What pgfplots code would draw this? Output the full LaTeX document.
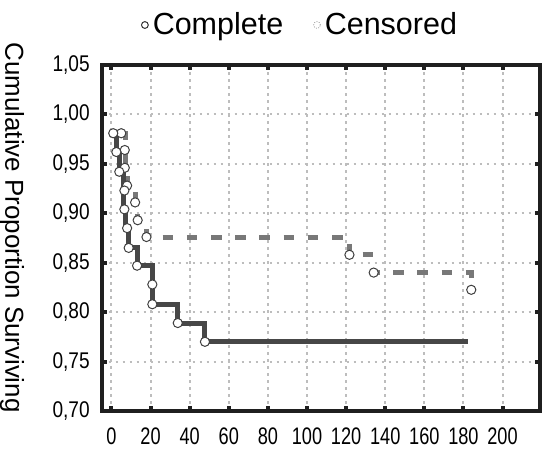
\documentclass[border=0pt]{standalone}
\usepackage{fontspec}
\setmainfont{Liberation Sans}
\newfontfamily\xnumfont{Liberation Sans}[FakeStretch=0.76]
\newfontfamily\ynumfont{Liberation Sans}[FakeStretch=0.84]
\usepackage{pgfplots}
\pgfplotsset{compat=1.18}

\definecolor{kmdark}{HTML}{474747}
\definecolor{kmgray}{HTML}{787878}
\definecolor{griddot}{HTML}{BDBDBD}

\begin{document}
\begin{tikzpicture}
\useasboundingbox (-50.85bp,-21.5bp) rectangle (221.15bp,205.5bp);
\begin{axis}[
    at={(0,0)}, anchor=south west,
    scale only axis,
    width=219bp, height=173bp,
    xmin=-5, xmax=219,
    ymin=0.70, ymax=1.05,
    xtick={0,20,40,60,80,100,120,140,160,180,200},
    ytick={0.70,0.75,0.80,0.85,0.90,0.95,1.00,1.05},
    xticklabel style={font=\xnumfont\fontsize{12}{14}\selectfont, yshift=-5bp},
    yticklabel style={font=\ynumfont\fontsize{11.4}{13}\selectfont, xshift=-2.5bp,
        /pgf/number format/.cd, fixed, fixed zerofill, precision=2, use comma},
    /pgf/number format/assume math mode=true,
    axis line style={line width=2bp, black!88},
    major tick length=2.5bp,
    tick style={line width=2bp, black!88},
    xmajorgrids, ymajorgrids,
    grid style={griddot, line width=1bp, dash pattern=on 1.3bp off 2.2bp},
    ylabel={Cumulative Proportion Surviving},
    ylabel style={at={(axis description cs:-0.2046,0.53)}, anchor=center,
        rotate=180, font=\fontsize{13}{15}\selectfont},
    legend style={at={(0.455,1)}, anchor=center, yshift=20bp, draw=none, fill=none,
        font=\fontsize{15.3}{17}\selectfont, legend columns=2,
        /tikz/every even column/.append style={column sep=13bp}},
]
    % second group (dashed)
    \addplot[kmgray, line width=2.5bp, dash pattern=on 5.3bp off 6.8bp, forget plot]
    coordinates {(5,0.981) (7,0.981) (7,0.946) (8,0.946) (8,0.928) (12.1,0.928)
        (12.1,0.911) (13.4,0.911) (13.4,0.893) (17.9,0.893) (17.9,0.876)
        (121.7,0.876) (121.7,0.858) (134.1,0.858) (134.1,0.840) (184,0.840) (184,0.8226)};
    % first group (solid)
    \addplot[kmdark, line width=2.5bp, forget plot]
    coordinates {(0.9,0.981) (2.7,0.981) (2.7,0.962) (4,0.962) (4,0.942) (6.2,0.942)
        (6.2,0.904) (7.3,0.904) (7.3,0.885) (8.8,0.885) (8.8,0.865) (13.1,0.865)
        (13.1,0.847) (20.9,0.847) (20.9,0.808) (33.9,0.808) (33.9,0.789) (47.8,0.789)
        (47.8,0.770) (182.4,0.770)};
    \addplot[only marks, mark=*, mark size=2.3bp,
        mark options={fill=white, draw=black!75, line width=0.5bp}, forget plot]
    coordinates {(5,0.981) (6.8,0.964) (6.8,0.946) (8,0.928) (12.1,0.911) (13.4,0.893)
        (17.9,0.876) (121.7,0.858) (134.1,0.840) (184,0.8226)};
    \addplot[only marks, mark=*, mark size=2.3bp,
        mark options={fill=white, draw=black!75, line width=0.5bp}, forget plot]
    coordinates {(0.9,0.981) (2.5,0.962) (4,0.942) (6.6,0.923) (6.6,0.904) (8,0.885)
        (8.8,0.865) (13.1,0.847) (20.9,0.828) (20.9,0.808) (33.9,0.789) (47.8,0.770)};
    \addlegendimage{legend image code/.code={\draw[black!80, line width=0.5bp] (0.35cm,0bp) circle (1.7bp);}}
    \addlegendentry{Complete}
    \addlegendimage{legend image code/.code={\draw[black!35, line width=0.4bp, dash pattern=on 0.5bp off 0.7bp] (0.15cm,0bp) circle (1.7bp);}}
    \addlegendentry{Censored}
\end{axis}
\end{tikzpicture}
\end{document}
